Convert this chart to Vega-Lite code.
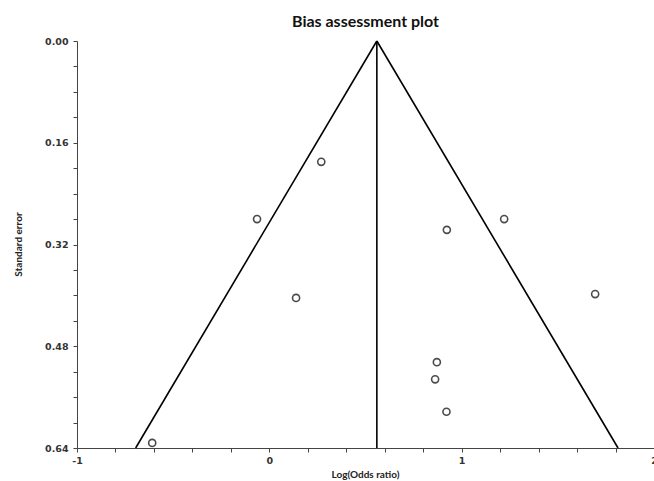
{
  "$schema": "https://vega.github.io/schema/vega-lite/v6.json",
  "width": 577,
  "height": 407,
  "autosize": "none",
  "padding": {"left": 77, "top": 41, "right": 0, "bottom": 33},
  "background": "white",
  "title": {
    "text": "Bias assessment plot",
    "font": "Lato",
    "fontSize": 16,
    "fontWeight": "bold",
    "color": "#111",
    "anchor": "middle",
    "offset": 6
  },
  "config": {
    "view": {"stroke": null},
    "axis": {
      "domainColor": "#444",
      "domainWidth": 1,
      "tickColor": "#444",
      "tickSize": 4,
      "tickWidth": 1,
      "grid": false,
      "labelFont": "DejaVu Sans",
      "labelFontSize": 9.5,
      "labelFontWeight": "bold",
      "labelColor": "#333",
      "labelOverlap": false,
      "titleFont": "Lato",
      "titleFontSize": 10,
      "titleFontWeight": "bold",
      "titleColor": "#222"
    }
  },
  "datasets": {
    "studies": [
      {"logOR": 0.27, "se": 0.19},
      {"logOR": -0.064, "se": 0.28},
      {"logOR": 0.923, "se": 0.297},
      {"logOR": 1.221, "se": 0.28},
      {"logOR": 0.139, "se": 0.404},
      {"logOR": 1.694, "se": 0.398},
      {"logOR": 0.871, "se": 0.505},
      {"logOR": 0.862, "se": 0.532},
      {"logOR": 0.921, "se": 0.583},
      {"logOR": -0.609, "se": 0.632}
    ],
    "funnel": [
      {"line": "left", "ord": 0, "logOR": 0.559, "se": 0},
      {"line": "left", "ord": 1, "logOR": -0.695, "se": 0.64},
      {"line": "right", "ord": 0, "logOR": 0.559, "se": 0},
      {"line": "right", "ord": 1, "logOR": 1.813, "se": 0.64},
      {"line": "mid", "ord": 0, "logOR": 0.559, "se": 0},
      {"line": "mid", "ord": 1, "logOR": 0.559, "se": 0.64}
    ]
  },
  "layer": [
    {
      "data": {"name": "funnel"},
      "mark": {"type": "line", "color": "black", "strokeWidth": 1.6},
      "encoding": {
        "x": {
          "field": "logOR", "type": "quantitative",
          "scale": {"domain": [-1, 2], "nice": false, "zero": false},
          "axis": {
            "title": "Log(Odds ratio)",
            "values": [-1, -0.8, -0.6, -0.4, -0.2, 0, 0.2, 0.4, 0.6, 0.8, 1, 1.2, 1.4, 1.6, 1.8, 2],
            "tickCount": 100,
            "labelExpr": "datum.value === -1 ? '-1' : datum.value === 0 ? '0' : datum.value === 1 ? '1' : datum.value === 2 ? '2' : ''",
            "labelOverlap": false,
            "labelFlush": false,
            "labelBound": false,
            "labelPadding": 3,
            "titleX": 288,
            "titleY": 26,
            "titleBaseline": "middle",
            "titleAlign": "center"
          }
        },
        "y": {
          "field": "se", "type": "quantitative",
          "scale": {"domain": [0, 0.64], "reverse": true, "nice": false},
          "axis": {
            "title": "Standard error",
            "values": [0, 0.04, 0.08, 0.12, 0.16, 0.2, 0.24, 0.28, 0.32, 0.36, 0.4, 0.44, 0.48, 0.52, 0.56, 0.6, 0.64],
            "tickCount": 100,
            "labelExpr": "round(datum.value * 100) % 16 === 0 ? format(datum.value, '.2f') : ''",
            "labelOverlap": false,
            "labelFlush": false,
            "labelPadding": 5,
            "titleAngle": 270,
            "titleX": -59,
            "titleY": 203,
            "titleAlign": "center",
            "titleBaseline": "middle"
          }
        },
        "detail": {"field": "line"},
        "order": {"field": "ord"}
      }
    },
    {
      "data": {"name": "studies"},
      "mark": {"type": "point", "shape": "circle", "filled": false, "color": "black", "size": 50, "strokeWidth": 1.6},
      "encoding": {
        "x": {"field": "logOR", "type": "quantitative"},
        "y": {"field": "se", "type": "quantitative"}
      }
    }
  ]
}
